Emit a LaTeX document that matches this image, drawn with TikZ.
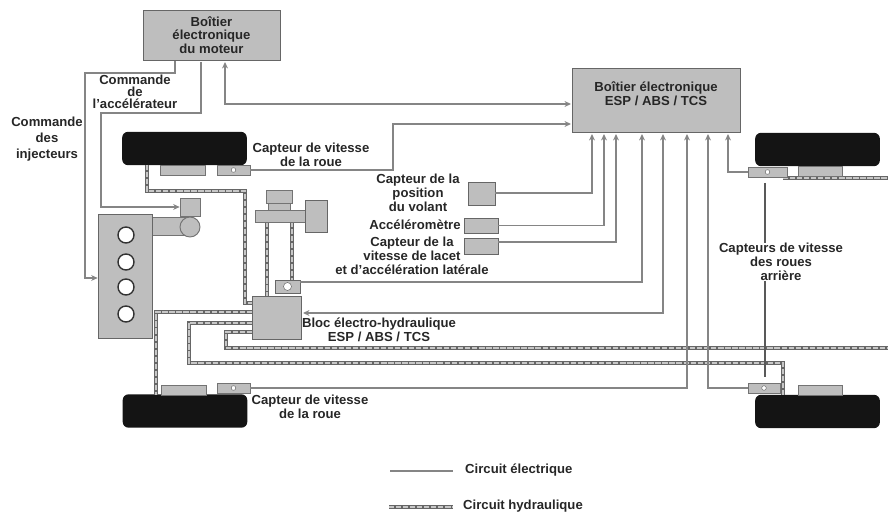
\documentclass[tikz,border=0pt]{standalone}
\usepackage{fontspec}
\setmainfont{Liberation Sans}
\usetikzlibrary{arrows.meta,shadows}

\definecolor{boxgray}{HTML}{BEBEBE}
\definecolor{wiregray}{HTML}{858585}

\begin{document}
\begin{tikzpicture}[
  x=0.03cm, y=-0.03cm,
  >={Stealth[length=5.5pt,width=5pt]},
  lbl/.style={align=center, inner sep=0pt, text=black!85,
              font=\fontsize{11.2}{11.8}\selectfont\bfseries},
  box/.style={draw=black!60, fill=boxgray, semithick, inner sep=0pt,
              drop shadow={shadow xshift=0.9pt, shadow yshift=-1.1pt, fill=black!75, opacity=1}},
  part/.style={draw=black!55, fill=boxgray, semithick, inner sep=0pt},
  tyre/.style={fill=black!92, rounded corners=5pt, inner sep=0pt,
               minimum width=3.74cm, minimum height=1cm},
  pad/.style={part, minimum width=1.33cm, minimum height=0.3cm},
  sens/.style={part, minimum height=0.3cm},
  dot/.style={draw=black!60, fill=white, circle, inner sep=0pt, minimum size=0.14cm},
  bore/.style={draw=black!80, fill=white, very thick, circle, inner sep=0pt, minimum size=0.48cm},
  wire/.style={draw=wiregray, line width=1.15pt},
  lead/.style={draw=black!65, line width=0.9pt},
  hyd/.style={draw=black!60, line width=3.2pt,
              postaction={draw=black!22, line width=1.5pt, dash pattern=on 4.5pt off 1.5pt}},
]
  \useasboundingbox (0,0) rectangle (888,513);

  %% Wheels
  \node[tyre] (tyrefl) at (184.5,148.5) {};
  \node[tyre] (tyrerl) at (185,411) {};
  \node[tyre] (tyrefr) at (817.5,149.5) {};
  \node[tyre] (tyrerr) at (817.5,411.5) {};

  %% Hydraulic block, master cylinder parts
  \node[box, minimum width=1.47cm, minimum height=1.29cm] (bloc) at (276.5,317.5) {};
  \node[part, minimum width=1.5cm, minimum height=0.36cm] (bar) at (280,216) {};

  %% Hydraulic lines (drawn before the parts that sit on them)
  \coordinate (blocw1) at (252,303);
  \coordinate (blocw2) at (252,312);
  \coordinate (blocw3) at (252,323);
  \coordinate (blocw4) at (252,332);
  \coordinate (barl) at (267,222);
  \coordinate (barr) at (292,222);
  \draw[hyd] (147,165) -- (147,191) -- (245,191) |- (blocw1);
  \draw[hyd] (blocw2) -- (156,312) -- (156,395);
  \draw[hyd] (blocw3) -- (189,323) -- (189,363) -- (783,363) -- (783,395);
  \draw[hyd] (blocw4) -- (226,332) -- (226,348) -- (888,348);
  \draw[hyd] (783,178) -- (888,178);
  \draw[hyd] (barl) -- (267,296);
  \draw[hyd] (barr) -- (292,280);

  %% Pads and wheel sensors
  \node[pad] (padfl) at (183,170) {};
  \node[pad] (padrl) at (184,390) {};
  \node[pad] (padfr) at (820.5,171.5) {};
  \node[pad] (padrr) at (820.5,390) {};
  \node[sens, minimum width=0.99cm] (sensfl) at (233.5,170) {};
  \node[sens, minimum width=0.99cm] (sensrl) at (233.5,388) {};
  \node[sens, minimum width=1.17cm] (sensfr) at (767.5,172) {};
  \node[sens, minimum width=0.96cm] (sensrr) at (764,388) {};
  \node[dot] at (sensfl) {};
  \node[dot] at (sensrl) {};
  \node[dot] at (sensfr) {};
  \node[dot] at (sensrr) {};

  %% Master cylinder
  \node[part, minimum width=0.66cm, minimum height=0.24cm] (neck) at (279,206) {};
  \node[part, minimum width=0.78cm, minimum height=0.39cm] (bowl) at (279,196.5) {};
  \node[part, minimum width=1.5cm, minimum height=0.36cm] at (bar) {};
  \node[box, minimum width=0.66cm, minimum height=0.96cm] (servo) at (316,216) {};
  \node[box, minimum width=0.75cm, minimum height=0.39cm] (sensbloc) at (287.5,286.5) {};
  \node[dot, minimum size=0.24cm] at (sensbloc) {};

  %% Engine
  \node[part, minimum width=1.14cm, minimum height=0.54cm] (intake) at (171,226) {};
  \node[box, minimum width=1.62cm, minimum height=3.72cm] (engine) at (125,276) {};
  \foreach \y in {235, 262, 287, 314}
    \node[bore] at (126,\y) {};
  \node[part, circle, thick, minimum size=0.6cm] (throttle) at (190,227) {};
  \node[part, minimum width=0.6cm, minimum height=0.54cm] (gaz) at (190,207) {};

  %% Control units
  \node[box, minimum width=4.11cm, minimum height=1.5cm, lbl] (ecm) at (211.5,35) {Boîtier\\électronique\\du moteur};
  \node[box, minimum width=5.04cm, minimum height=1.92cm] (esp) at (656,100) {};
  \node[lbl] (esptxt) at (656,93.5) {Boîtier électronique\\ESP / ABS / TCS};

  %% Cabin sensors
  \node[box, minimum width=0.81cm, minimum height=0.69cm] (volant) at (481.5,193.5) {};
  \node[box, minimum width=1.02cm, minimum height=0.45cm] (accel) at (481,225.5) {};
  \node[box, minimum width=1.02cm, minimum height=0.48cm] (lacet) at (481,246) {};

  %% Ports of the control units
  \foreach \n/\x in {a/592, b/604, c/616, d/642, e/663, f/687, g/708, h/728}
    \coordinate (esp\n) at (\x,134);
  \coordinate (espw1) at (571,104);
  \coordinate (espw2) at (571,124);
  \coordinate (ecma) at (175,61);
  \coordinate (ecmb) at (201,62);
  \coordinate (ecmc) at (225,62);
  \coordinate (blocin) at (303,313);

  %% Electric lines
  \draw[wire,->] (ecma) -- (175,73) -- (85,73) |- (engine.west |- 0,278);
  \draw[wire,->] (ecmb) -- (201,113) -- (101,113) |- (gaz.west);
  \draw[wire,<->] (ecmc) |- (espw1);
  \draw[wire,->] (sensfl.east) -- (393,170) |- (espw2);
  \draw[wire,->] (volant.east |- 0,193) -| (espa);
  \draw[wire,->] (accel.east) -| (espb);
  \draw[wire,->] (lacet.east |- 0,242) -| (espc);
  \draw[wire,->,line width=1.5pt] (sensbloc.east |- 0,282) -| (espd);
  \draw[wire,<->] (blocin) -| (espe);
  \draw[wire,->] (sensrl.east) -| (espf);
  \draw[wire,->] (sensrr.west) -| (espg);
  \draw[wire,->] (sensfr.west) -| (esph);

  %% Rear sensors leader
  \node[lbl] (rear) at (781,262) {Capteurs de vitesse\\des roues\\arrière};
  \coordinate (leadtop) at (765,183);
  \coordinate (leadbot) at (765,377);
  \draw[lead] (leadtop) -- (rear.north -| leadtop);
  \draw[lead] (rear.south -| leadbot) -- (leadbot);

  %% Labels
  \node[lbl, font=\fontsize{11.2}{10.4}\selectfont\bfseries] (lblaccel) at (135,92) {Commande\\de\\l'accélérateur};
  \node[lbl, font=\fontsize{11.2}{13.6}\selectfont\bfseries] (lblinj) at (47,139) {Commande\\des\\injecteurs};
  \node[lbl] (lblfl) at (311,155) {Capteur de vitesse\\de la roue};
  \node[lbl] (lblrl) at (310,407) {Capteur de vitesse\\de la roue};
  \node[lbl] (lblvol) at (418,193) {Capteur de la\\position\\du volant};
  \node[lbl] (lblacc) at (415,225) {Accéléromètre};
  \node[lbl] (lbllac) at (412,256) {Capteur de la\\vitesse de lacet\\et d'accélération latérale};
  \node[lbl] (lblbloc) at (379,330) {Bloc électro-hydraulique\\ESP / ABS / TCS};

  %% Legend
  \node[lbl, anchor=west] (legel) at (465,470) {Circuit électrique};
  \node[lbl, anchor=west] (leghy) at (463,506) {Circuit hydraulique};
  \coordinate (legela) at (390,471);
  \coordinate (leghya) at (389,507);
  \draw[wire] (legela) -- (453,471);
  \draw[hyd] (leghya) -- (453,507);
\end{tikzpicture}
\end{document}
